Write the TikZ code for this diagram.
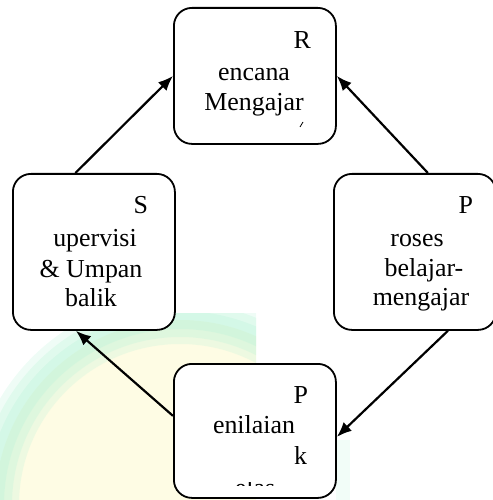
\documentclass[tikz,border=0pt]{standalone}
\usepackage{fontspec}
\setmainfont{Liberation Serif}
\usetikzlibrary{arrows.meta}
\definecolor{mint}{RGB}{190,244,218}
\definecolor{paleyellow}{RGB}{254,252,228}
\begin{document}
\begin{tikzpicture}[x=1bp,y=1bp,
  stage/.style={draw=black, line width=1.8bp, fill=white, rounded corners=18bp,
    minimum width=162bp, minimum height=136bp, inner sep=0pt, anchor=north west},
  flow/.style={line width=2.2bp, -{Latex[length=15bp,width=12bp]}},
  word/.style={inner sep=0pt, outer sep=0pt, font=\fontsize{26}{31}\selectfont, anchor=base},
  initial/.style={word, anchor=base east}]
\useasboundingbox (0,0) rectangle (493,-500);

% faint seal in the background
\begin{scope}
  \clip (0,-313) rectangle (256,-500);
  \fill[paleyellow] (180,-505) circle (185);
  \draw[mint, line width=48bp, opacity=0.25] (180,-505) circle (185);
  \draw[mint, line width=34bp, opacity=0.3] (180,-505) circle (185);
  \draw[mint, line width=18bp, opacity=0.35] (180,-505) circle (185);
\end{scope}
\fill[mint, opacity=0.2] (336,-440) rectangle (350,-500);

% stages of the cycle
\node[stage] (ren) at (173,-7) {};
\node[stage, minimum height=156bp] (sup) at (12,-173) {};
\node[stage, minimum height=156bp] (pro) at (333,-173) {};
\node[stage, minimum height=134bp] (pen) at (173,-363) {};

% cycle arrows
\draw[flow] ([xshift=-18.5bp]sup.north) -- (ren.west);
\draw[flow] ([xshift=13bp]pro.north) -- (ren.east);
\draw[flow] ([xshift=33bp]pro.south) -- ([yshift=-6bp]pen.east);
\draw[flow] ([yshift=15bp]pen.west) -- ([xshift=-18bp]sup.south);

% Rencana Mengajar
\node[initial] (renA) at (311,-48.5) {R};
\node[word] (renB) at (254,-81) {encana};
\node[word] (renC) at (254,-111) {Mengajar};
\draw[line width=0.8bp] (300,-127) -- (303,-122);

% Supervisi & Umpan balik
\node[initial] (supA) at (148,-213) {S};
\node[word] (supB) at (95,-246) {upervisi};
\node[word] (supC) at (91,-277) {\& Umpan};
\node[word] (supD) at (91,-306) {balik};

% Proses belajar-mengajar
\node[initial] (proA) at (473,-213) {P};
\node[word] (proB) at (417,-246) {roses};
\node[word] (proC) at (424,-276) {belajar-};
\node[word] (proD) at (421,-305) {mengajar};

% Penilaian kelas
\node[initial] (penA) at (308,-403) {P};
\node[word] (penB) at (254,-433) {enilaian};
\node[initial] (penC) at (307,-464) {k};
\begin{scope}
  \clip (200,-482) rectangle (310,-485.5);
  \node[word] (penD) at (255,-496.5) {elas};
\end{scope}
\end{tikzpicture}
\end{document}
